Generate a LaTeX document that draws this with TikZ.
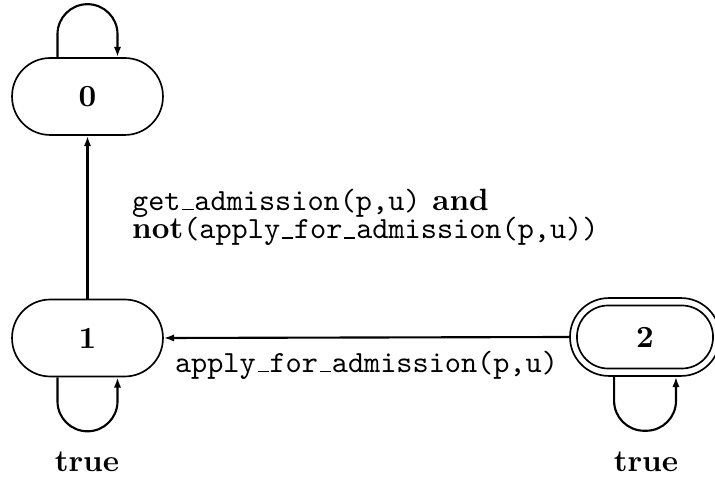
\documentclass[tikz,border=0pt]{standalone}
\usetikzlibrary{arrows.meta}
% short low underscore, as in classic typewriter text
\newcommand{\us}{\leavevmode\kern.06em\vbox{\hrule width.36em height.5pt}\kern.03em}
\newcommand{\labelsize}{\fontsize{10.15pt}{12.2pt}\selectfont}
\begin{document}
\begin{tikzpicture}[x=0.33pt, y=-0.33pt,
  state/.style={draw, line width=0.55pt, rectangle, inner sep=0pt,
    minimum width=49.8pt, minimum height=25.4pt, rounded corners=12.6pt,
    font=\labelsize\bfseries},
  innerring/.style={draw, line width=0.55pt, rectangle, inner sep=0pt,
    minimum width=44.9pt, minimum height=20.8pt, rounded corners=10.3pt},
  arr/.style={line width=0.7pt, -{Latex[length=3.4pt,width=2.4pt]}},
  loopline/.style={arr, rounded corners=9.9pt},
  lbl/.style={font=\labelsize\ttfamily, inner sep=0pt}
]
\useasboundingbox (0,0) rectangle (715,477);

% states
\node[state] (n0) at (87.5,96.5) {0};
\node[state] (n1) at (87.5,338) {1};
\node[state, minimum width=49.5pt, minimum height=25.7pt, rounded corners=12.8pt] (n2) at (645,337) {2};
\node[innerring] (n2in) at (n2.center) {};

% transitions between states
\draw[arr] (n1.north) -- node[lbl, anchor=west, xshift=14.4pt, align=left]
  {get\us admission(p,u)\textrm{\textbf{ and}}\\[-2.8pt]
   \textrm{\textbf{not}}(apply\us for\us admission(p,u))} (n0.south);
\draw[arr] (n2.west) -- node[lbl, anchor=north, yshift=-4pt]
  {apply\us for\us admission(p,u)} (n1.east);

% self loops
\draw[loopline] ([xshift=-9.9pt]n0.north) -- ++(0,-53) -- ++(60,0) -- ([xshift=9.9pt]n0.north);
\draw[loopline] ([xshift=-9.9pt]n1.south) -- ++(0,54) -- ++(60,0) -- ([xshift=9.9pt]n1.south);
\draw[loopline] ([xshift=-10.2pt]n2.south) -- ++(0,54) -- ++(62,0) -- ([xshift=10.2pt]n2.south);

% loop labels
\node[font=\labelsize\bfseries] (t1) at (87,462) {true};
\node[font=\labelsize\bfseries] (t2) at (646,462) {true};
\end{tikzpicture}
\end{document}
